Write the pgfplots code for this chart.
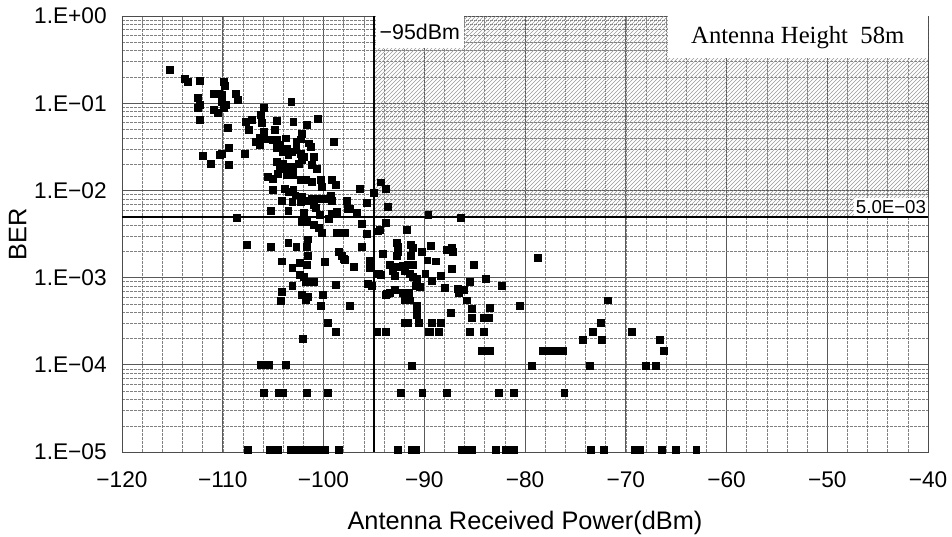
\documentclass[border=0pt]{standalone}
\usepackage{pgfplots}
\pgfplotsset{compat=1.18}
\usepackage{fontspec}
\setmainfont{Liberation Sans}
\newfontfamily\timesfont{Liberation Serif}
\usetikzlibrary{patterns}

\begin{document}
\begin{tikzpicture}
\begin{axis}[
  at={(0,0)}, anchor=south west,
  scale only axis,
  width=604.5pt, height=327pt,
  xmin=-120, xmax=-40,
  ymode=log, ymin=1e-5, ymax=1,
  xtick={-120,-110,...,-40},
  xticklabels={−120,−110,−100,−90,−80,−70,−60,−50,−40},
  minor xtick={-118,-116,...,-42},
  ytick={1e-5,1e-4,1e-3,1e-2,1e-1,1},
  yticklabels={1.E−05,1.E−04,1.E−03,1.E−02,1.E−01,1.E+00},
  minor ytick={2e-5,3e-5,4e-5,5e-5,6e-5,7e-5,8e-5,9e-5,
               2e-4,3e-4,4e-4,5e-4,6e-4,7e-4,8e-4,9e-4,
               2e-3,3e-3,4e-3,5e-3,6e-3,7e-3,8e-3,9e-3,
               2e-2,3e-2,4e-2,5e-2,6e-2,7e-2,8e-2,9e-2,
               2e-1,3e-1,4e-1,5e-1,6e-1,7e-1,8e-1,9e-1},
  grid=both,
  major grid style={black!65, line width=0.5pt},
  minor grid style={black!50, line width=0.35pt, dash pattern=on 2pt off 1pt},
  major tick length=0pt, minor tick length=0pt,
  tick label style={font=\fontsize{17}{20}\selectfont},
  xticklabel style={yshift=-11pt},
  yticklabel style={xshift=-8pt},
  xlabel={Antenna Received Power(dBm)},
  ylabel={BER},
  label style={font=\fontsize{19}{22}\selectfont},
  xlabel style={yshift=-11pt},
  ylabel style={yshift=-1pt},
  axis line style={black!70, line width=0.6pt},
  clip=false,
]
% shaded region
\fill[pattern=north east lines, pattern color=black!40] (axis cs:-95,5e-3) rectangle (axis cs:-40,1);
% threshold lines
\draw[line width=1.6pt] (axis cs:-120,5e-3) -- (axis cs:-40,5e-3);
\draw[line width=1.5pt] (axis cs:-95,1e-5) -- (axis cs:-95,1);

\addplot[only marks, mark=square*, mark size=2.6pt, black] table[row sep=\\] {
x y\\
-115.3 0.24\\ -113.8 0.19\\ -113.5 0.174\\ -112.3 0.18\\ -109.9 0.174\\ -109.8 0.16\\
-110.9 0.127\\ -110.4 0.127\\ -110.1 0.125\\ -108.7 0.127\\ -108.5 0.109\\ -112.5 0.116\\
-112.3 0.096\\ -112.5 0.088\\ -110.1 0.104\\ -109.7 0.096\\ -109.9 0.089\\ -110.9 0.085\\
-110.5 0.077\\ -112.3 0.064\\ -109.5 0.052\\ -112.0 0.025\\ -111.2 0.020\\ -110.3 0.0255\\
-110.1 0.0266\\ -109.4 0.031\\ -109.4 0.0195\\ -107.8 0.026\\ -103.2 0.103\\ -105.9 0.089\\
-106.2 0.073\\ -107.7 0.062\\ -107.1 0.065\\ -106.1 0.059\\ -104.6 0.063\\ -103.0 0.062\\
-101.7 0.057\\ -100.6 0.067\\ -107.4 0.049\\ -105.9 0.047\\ -104.8 0.049\\ -106.3 0.040\\
-106.7 0.036\\ -105.5 0.0386\\ -105.0 0.038\\ -104.6 0.0386\\ -103.7 0.0396\\ -102.2 0.045\\
-102.3 0.0386\\ -102.7 0.036\\ -101.5 0.0347\\ -101.3 0.0318\\ -99.0 0.036\\ -106.3 0.033\\
-104.3 0.033\\ -104.6 0.031\\ -103.6 0.030\\ -104.0 0.028\\ -103.5 0.0255\\ -103.1 0.028\\
-102.7 0.029\\ -102.3 0.0266\\ -102.2 0.0223\\ -102.5 0.0204\\ -102.0 0.0244\\ -101.0 0.0244\\
-104.6 0.0214\\ -104.0 0.0204\\ -103.6 0.0187\\ -104.3 0.0179\\ -103.0 0.0187\\ -101.2 0.0195\\
-100.7 0.0179\\ -105.5 0.0144\\ -105.0 0.0137\\ -104.5 0.0157\\ -103.6 0.015\\ -103.0 0.015\\
-102.3 0.0131\\ -101.8 0.0131\\ -101.2 0.0126\\ -100.3 0.0131\\ -100.2 0.011\\ -99.2 0.0131\\
-98.8 0.0115\\ -105.0 0.0101\\ -103.8 0.0105\\ -103.5 0.0097\\ -103.0 0.0101\\ -102.8 0.0088\\
-102.2 0.0085\\ -101.2 0.0081\\ -100.7 0.0081\\ -100.0 0.0081\\ -99.3 0.0088\\ -99.2 0.0077\\
-96.4 0.0105\\ -95.0 0.0095\\ -104.1 0.0077\\ -103.1 0.0074\\ -102.3 0.0074\\ -101.8 0.0077\\
-101.0 0.0068\\ -97.7 0.0077\\ -95.7 0.0073\\
-107.6 0.0024\\ -108.6 0.0049\\
-105.2 0.0058\\ -103.5 0.0059\\ -102.0 0.0056\\ -100.8 0.0063\\ -100.4 0.0052\\ -99.5 0.0047\\
-99.2 0.0054\\ -98.7 0.0057\\ -97.6 0.0062\\ -97.4 0.0062\\ -96.7 0.0056\\ -102.2 0.0044\\
-101.7 0.0044\\ -101.0 0.0040\\ -100.5 0.0037\\ -100.2 0.0033\\ -98.7 0.0033\\ -97.9 0.0033\\
-96.2 0.0041\\ -95.7 0.0032\\ -94.6 0.0034\\ -103.5 0.0025\\ -102.7 0.00225\\ -101.6 0.00275\\
-101.7 0.00225\\ -105.2 0.00225\\ -98.5 0.0020\\ -98.2 0.0018\\ -98.0 0.00165\\ -97.9 0.0016\\
-96.2 0.00225\\ -104.15 0.00154\\ -103.1 0.00129\\ -102.4 0.00149\\ -101.7 0.00141\\ -101.6 0.00177\\
-99.9 0.00151\\ -97.0 0.00133\\ -95.4 0.00158\\ -95.4 0.00129\\ -94.5 0.00111\\ -102.4 0.00108\\
-102.0 0.00102\\ -101.8 0.00089\\ -101.0 0.00089\\ -103.1 0.0008\\ -98.8 0.00082\\ -95.6 0.00085\\
-95.2 0.0008\\ -104.15 0.00068\\ -102.2 0.00064\\ -101.6 0.0006\\ -101.8 0.00055\\ -100.1 0.00064\\
-104.25 0.00054\\ -100.3 0.00048\\ -97.4 0.00047\\
-99.6 0.0003\\ -98.8 0.00024\\ -102.1 0.0002\\
-106.2 1e-4\\ -105.4 1e-4\\ -103.7 1e-4\\
-105.9 4.8e-5\\ -104.4 4.8e-5\\ -104.0 4.8e-5\\ -101.7 4.8e-5\\ -99.6 4.8e-5\\
-107.5 1.05e-5\\ -105.3 1.05e-5\\ -104.5 1.05e-5\\ -103.3 1.05e-5\\ -102.8 1.05e-5\\ -102.3 1.05e-5\\
-101.7 1.05e-5\\ -101.1 1.05e-5\\ -100.5 1.05e-5\\ -99.9 1.05e-5\\ -98.5 1.05e-5\\
-94.3 0.0124\\ -93.8 0.0104\\ -93.6 0.0065\\ -89.6 0.0053\\ -86.4 0.0049\\ -93.8 0.0043\\
-94.45 0.0035\\ -91.7 0.0035\\ -92.7 0.0025\\ -92.6 0.00225\\ -92.6 0.0020\\ -92.7 0.00177\\
-91.3 0.0024\\ -91.1 0.0022\\ -90.25 0.00197\\ -89.35 0.0023\\ -94.1 0.00189\\ -91.3 0.00177\\
-87.8 0.0021\\ -87.3 0.0022\\ -87.2 0.00197\\ -89.7 0.00158\\ -88.9 0.00154\\
-93.4 0.00139\\ -92.7 0.00133\\ -92.1 0.00136\\ -91.6 0.00141\\ -91.1 0.00141\\ -91.9 0.00121\\
-91.4 0.00111\\ -93.1 0.00121\\ -92.9 0.00105\\ -94.3 0.00108\\ -87.3 0.00125\\ -85.1 0.00141\\
-89.9 0.00111\\ -88.4 0.00106\\ -91.1 0.00102\\ -90.7 0.00098\\ -89.3 0.00091\\ -85.5 0.00089\\
-83.9 0.00098\\ -82.3 0.0008\\ -90.8 0.0008\\ -90.4 0.00078\\ -88.0 0.00076\\ -86.7 0.00075\\
-86.6 0.00067\\ -86.1 0.00073\\ -93.7 0.00066\\ -93.8 0.00063\\ -93.4 0.00067\\ -92.9 0.00073\\
-92.1 0.00067\\ -91.5 0.00067\\
-78.7 0.0017\\
-91.9 0.00055\\ -91.4 0.00055\\ -90.7 0.00048\\ -90.7 0.00042\\ -90.7 0.00037\\ -85.8 0.00055\\
-71.8 0.00055\\ -80.5 0.00048\\ -85.3 0.00044\\ -83.5 0.00045\\ -87.4 0.0004\\ -85.3 0.00035\\
-84.1 0.00035\\ -83.6 0.00035\\
-91.9 0.0003\\ -91.6 0.0003\\ -90.5 0.0003\\ -89.3 0.0003\\ -88.4 0.0003\\ -72.5 0.0003\\
-94.7 0.00024\\ -93.8 0.00024\\ -89.6 0.00024\\ -89.4 0.00024\\ -88.6 0.00024\\ -85.5 0.00024\\
-84.1 0.00024\\ -73.3 0.00024\\ -69.4 0.00024\\
-74.3 0.000196\\ -72.4 0.000196\\ -66.6 0.000196\\
-84.3 0.000146\\ -83.5 0.000146\\ -78.2 0.000146\\ -77.5 0.000146\\ -76.8 0.000146\\ -76.2 0.000146\\
-66.2 0.000146\\
-91.2 9.8e-5\\ -79.3 9.8e-5\\ -73.6 9.8e-5\\ -68.0 9.8e-5\\ -67.0 9.8e-5\\
-92.3 4.8e-5\\ -90.2 4.8e-5\\ -87.8 4.8e-5\\ -82.6 4.8e-5\\ -81.1 4.8e-5\\ -76.1 4.8e-5\\
-92.6 1.05e-5\\ -91.2 1.05e-5\\ -90.8 1.05e-5\\ -86.3 1.05e-5\\ -85.8 1.05e-5\\ -85.3 1.05e-5\\
-82.9 1.05e-5\\ -81.9 1.05e-5\\ -81.1 1.05e-5\\ -73.5 1.05e-5\\ -72.2 1.05e-5\\ -69.1 1.05e-5\\
-68.6 1.05e-5\\ -66.4 1.05e-5\\ -65.0 1.05e-5\\ -63.0 1.05e-5\\
};

\node[anchor=north west, fill=white, inner sep=3pt, minimum height=24pt,
      font=\fontsize{16}{19}\selectfont] at ([xshift=1.2pt]axis cs:-95,1) {−95dBm};
\node[anchor=north east, fill=white, inner sep=0pt, minimum width=195pt, minimum height=31.5pt,
      font=\timesfont\fontsize{18.5}{22}\selectfont] at (axis cs:-40,1) {Antenna Height~~58m};
\node[anchor=south east, fill=white, inner sep=1.5pt, outer sep=0pt,
      font=\fontsize{14}{16}\selectfont] at ([yshift=0.8pt]axis cs:-40,5e-3) {5.0E−03};
\end{axis}
\pgfresetboundingbox
\useasboundingbox (-91.5pt,-63pt) rectangle (622.5pt,339pt);
\end{tikzpicture}
\end{document}
